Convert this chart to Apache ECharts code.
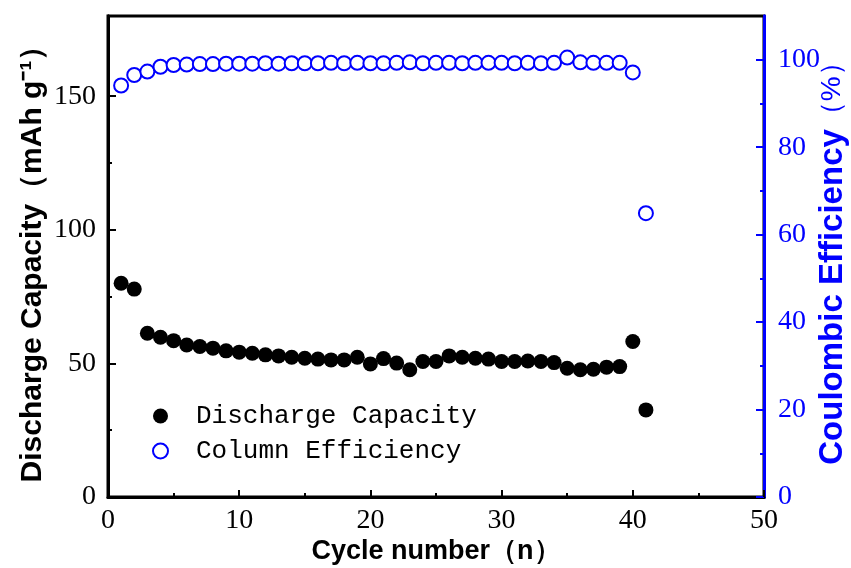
<!DOCTYPE html>
<html>
<head>
<meta charset="utf-8">
<script src="https://cdn.jsdelivr.net/npm/echarts@6/dist/echarts.min.js"></script>
<style>
  html, body { margin: 0; padding: 0; background: #fff; }
  #main { width: 851px; height: 568px; }
</style>
</head>
<body>
<div id="main"></div>
<script>
// cycle index (x)
const cycles = [1, 2, 3, 4, 5, 6, 7, 8, 9, 10, 11, 12, 13, 14, 15, 16, 17, 18, 19, 20,
  21, 22, 23, 24, 25, 26, 27, 28, 29, 30, 31, 32, 33, 34, 35, 36, 37, 38, 39, 40, 41];

// discharge capacity, mAh/g (left axis)
const capacity = [80.0, 77.8, 61.3, 59.8, 58.5, 56.9, 56.3, 55.7, 54.7, 54.2,
  53.8, 53.2, 52.8, 52.3, 51.9, 51.6, 51.3, 51.3, 52.3, 49.8,
  51.8, 50.1, 47.6, 50.7, 50.7, 52.8, 52.3, 51.9, 51.6, 50.7,
  50.7, 50.9, 50.7, 50.3, 48.2, 47.6, 47.8, 48.6, 48.8, 58.2, 32.6];

// coulombic efficiency, % (right axis)
const efficiency = [94.1, 96.5, 97.3, 98.4, 98.8, 98.9, 99.0, 99.0, 99.1, 99.1,
  99.1, 99.2, 99.1, 99.2, 99.2, 99.2, 99.3, 99.2, 99.3, 99.2,
  99.2, 99.3, 99.4, 99.2, 99.3, 99.3, 99.2, 99.3, 99.3, 99.3,
  99.2, 99.3, 99.2, 99.3, 100.5, 99.4, 99.3, 99.3, 99.3, 97.1, 64.9];

// tick values
const leftMajor = [0, 50, 100, 150];
const leftMinor = [25, 75, 125];
const rightMajor = [0, 20, 40, 60, 80, 100];
const rightMinor = [10, 30, 50, 70, 90];

const BLUE = '#0000ff';
const serif = 'Liberation Serif';
const sans = 'Liberation Sans';

var myChart = echarts.init(document.getElementById('main'));

var option = {
  animation: false,
  grid: {
    left: 108, right: 87, top: 16, bottom: 71,
    outerBoundsMode: 'none',
    show: true, borderColor: '#000', borderWidth: 3
  },
  legend: {
    orient: 'vertical',
    left: 147, top: 398,
    itemWidth: 15, itemHeight: 15, itemGap: 9,
    data: ['Discharge Capacity', 'Column Efficiency'],
    textStyle: { fontFamily: 'Liberation Mono', fontSize: 26, lineHeight: 26, color: '#000', padding: [0, 0, 0, 23] }
  },
  xAxis: {
    type: 'value', min: 0, max: 50, interval: 10,
    name: 'Cycle number（n）', nameLocation: 'middle', nameGap: 41, nameMoveOverlap: false,
    nameTextStyle: { fontFamily: sans, fontWeight: 'bold', fontSize: 27, color: '#000' },
    axisLine: { lineStyle: { color: '#000', width: 3 } },
    axisTick: { inside: true, length: 7, lineStyle: { width: 2 } },
    minorTick: { show: true, splitNumber: 2, length: 4, lineStyle: { color: '#000', width: 2 } },
    splitLine: { show: false },
    axisLabel: { fontFamily: serif, fontSize: 28, color: '#000', margin: 10 }
  },
  yAxis: [
    {
      type: 'value', min: 0, max: 180, position: 'left',
      name: 'Discharge Capacity（mAh g⁻¹）', nameLocation: 'middle', nameGap: 60, nameRotate: 90,
      nameMoveOverlap: false,
      nameTextStyle: { fontFamily: sans, fontWeight: 'bold', fontSize: 30, color: '#000' },
      axisLine: { show: true, lineStyle: { color: '#000', width: 3 } },
      axisTick: { inside: true, length: 8, customValues: leftMajor, lineStyle: { width: 2 } },
      axisLabel: { fontFamily: serif, fontSize: 28, color: '#000', margin: 12, customValues: leftMajor },
      splitLine: { show: false }
    },
    {
      type: 'value', min: 0, max: 110, position: 'right',
      name: '{b|Coulombic Efficiency}{n|（%）}', nameLocation: 'middle', nameGap: 52, nameRotate: 90,
      nameMoveOverlap: false,
      nameTextStyle: {
        color: BLUE,
        rich: {
          b: { fontFamily: sans, fontWeight: 'bold', fontSize: 33, color: BLUE },
          n: { fontFamily: sans, fontSize: 28, color: BLUE }
        }
      },
      axisLine: { show: true, lineStyle: { color: BLUE, width: 3 } },
      axisTick: { inside: true, length: 8, customValues: rightMajor, lineStyle: { color: BLUE, width: 2 } },
      axisLabel: { fontFamily: serif, fontSize: 28, color: BLUE, margin: 14, customValues: rightMajor },
      splitLine: { show: false }
    },
    {
      // minor ticks, left
      type: 'value', min: 0, max: 180, position: 'left',
      axisLine: { show: true, lineStyle: { color: '#000', width: 3 } },
      axisTick: { show: true, inside: true, length: 4, customValues: leftMinor, lineStyle: { color: '#000', width: 2 } },
      axisLabel: { show: false },
      splitLine: { show: false }
    },
    {
      // minor ticks, right
      type: 'value', min: 0, max: 110, position: 'right',
      axisLine: { show: true, lineStyle: { color: BLUE, width: 3 } },
      axisTick: { show: true, inside: true, length: 4, customValues: rightMinor, lineStyle: { color: BLUE, width: 2 } },
      axisLabel: { show: false },
      splitLine: { show: false }
    }
  ],
  series: [
    {
      name: 'Discharge Capacity',
      type: 'scatter',
      yAxisIndex: 0,
      symbol: 'circle',
      symbolSize: 15,
      itemStyle: { color: '#000', opacity: 1 },
      data: cycles.map((c, i) => [c, capacity[i]])
    },
    {
      name: 'Column Efficiency',
      type: 'scatter',
      yAxisIndex: 1,
      symbol: 'emptyCircle',
      symbolSize: 14,
      itemStyle: { color: BLUE, borderColor: BLUE, borderWidth: 1.5, opacity: 1 },
      data: cycles.map((c, i) => [c, efficiency[i]])
    }
  ]
};

option && myChart.setOption(option);
</script>
</body>
</html>
